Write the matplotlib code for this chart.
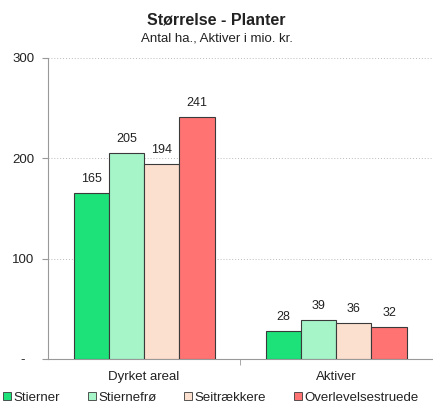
import matplotlib
matplotlib.use("Agg")
import matplotlib.pyplot as plt
import numpy as np

plt.rcParams["font.family"] = ["Liberation Sans", "DejaVu Sans"]

categories = ["Dyrket areal", "Aktiver"]
series_names = ["Stierner", "Stiernefrø", "Seitrækkere", "Overlevelsestruede"]
values = {
    "Stierner": [165, 28],
    "Stiernefrø": [205, 39],
    "Seitrækkere": [194, 36],
    "Overlevelsestruede": [241, 32],
}
colors = ["#1de27a", "#a6f5c9", "#fce0cf", "#ff7373"]
y_ticks = [0, 100, 200, 300]
y_tick_labels = ["-", "100", "200", "300"]

TXT = "#222222"

fig = plt.figure(figsize=(4.33, 4.05), dpi=100)
ax = fig.add_axes([0.111, 0.1136, 0.887, 0.7432])

x = np.arange(len(categories))
w = 0.1836
for i, name in enumerate(series_names):
    pos = x + (i - 1.5) * w
    bars = ax.bar(pos, values[name], width=w, color=colors[i],
                  edgecolor="#3a3a3a", linewidth=0.8, label=name, zorder=3)
    for b, v in zip(bars, values[name]):
        ax.annotate(str(v), (b.get_x() + b.get_width() / 2, v),
                    xytext=(0, 6), textcoords="offset points",
                    ha="center", va="bottom", fontsize=9, color=TXT)

ax.set_xlim(-0.5, 1.5)
ax.set_ylim(0, 300)
ax.set_yticks(y_ticks)
ax.set_yticklabels(y_tick_labels)
ax.set_xticks(x)
ax.set_xticklabels(categories)
ax.set_xticks([0.5], minor=True)
ax.tick_params(axis="x", which="major", length=0, labelsize=9.5,
               colors=TXT, pad=9)
ax.tick_params(axis="x", which="minor", length=4, direction="out",
               color="#999999")
ax.tick_params(axis="y", length=4, direction="out", color="#999999",
               labelsize=9.5, labelcolor=TXT, pad=14)
for lab in ax.get_yticklabels():
    lab.set_horizontalalignment("center")

ax.grid(axis="y", color="#bbbbbb", linestyle=(0, (1, 2)), linewidth=0.7,
        zorder=0)
for s in ["top", "right"]:
    ax.spines[s].set_visible(False)
for s in ["left", "bottom"]:
    ax.spines[s].set_color("#999999")
    ax.spines[s].set_linewidth(0.8)

fig.text(0.5, 0.951, "Størrelse - Planter", ha="center", va="center",
         fontsize=11.5, fontweight="bold", color=TXT)
fig.text(0.5, 0.905, "Antal ha., Aktiver i mio. kr.", ha="center",
         va="center", fontsize=9.5, color=TXT)

leg = fig.legend(loc="center", bbox_to_anchor=(0.487, 0.018), ncol=4,
                 frameon=False, fontsize=9.5, handlelength=0.6,
                 handleheight=0.6, handletextpad=0.2, columnspacing=2.1,
                 borderaxespad=0)
for t in leg.get_texts():
    t.set_color(TXT)
for h in leg.legend_handles:
    h.set_edgecolor("#3a3a3a")
    h.set_linewidth(0.6)

fig.savefig("out.png", dpi=100, facecolor="white")
